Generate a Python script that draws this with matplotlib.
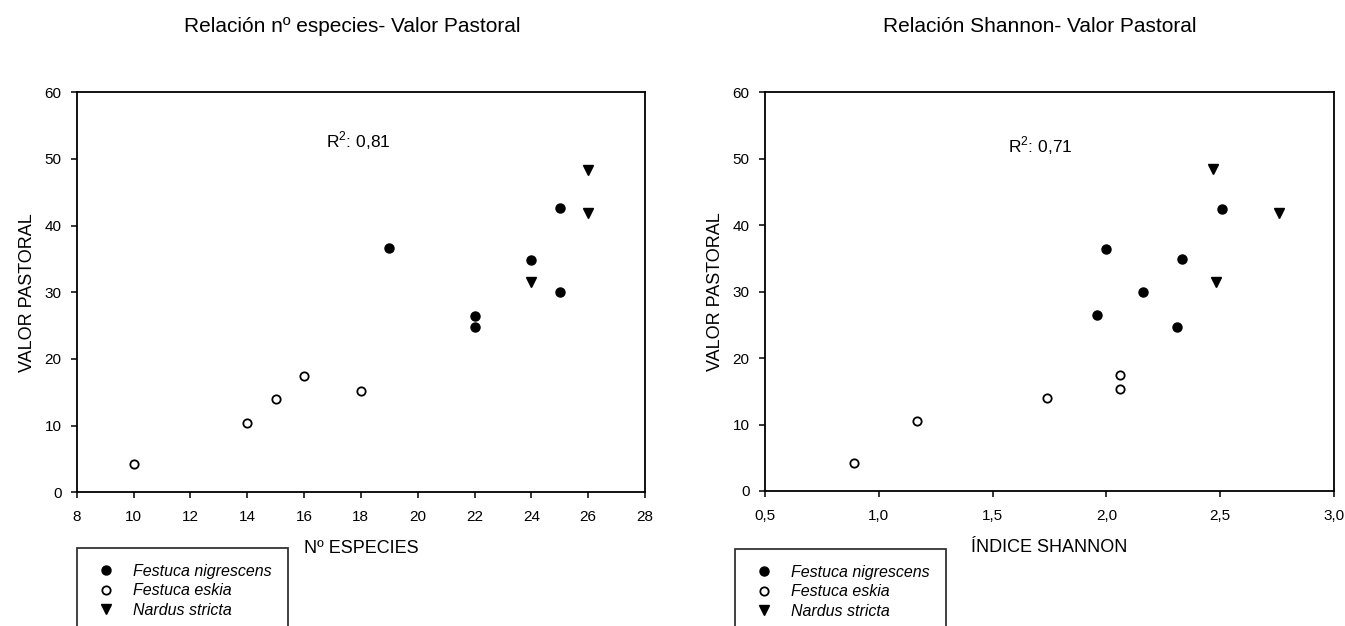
import matplotlib
matplotlib.use("Agg")
import matplotlib.pyplot as plt
from matplotlib.ticker import FuncFormatter, MultipleLocator

plt.rcParams["font.family"] = ["Liberation Sans", "DejaVu Sans"]
plt.rcParams["mathtext.fontset"] = "custom"
plt.rcParams["mathtext.rm"] = "Liberation Sans"

# Valor pastoral frente a nº de especies
nig_especies = [19, 22, 22, 24, 25, 25]
nig_vp_esp = [36.6, 26.4, 24.8, 34.9, 42.6, 30.0]
esk_especies = [10, 14, 15, 16, 18]
esk_vp_esp = [4.2, 10.4, 14.0, 17.4, 15.2]
nar_especies = [24, 26, 26]
nar_vp_esp = [31.5, 48.4, 41.9]

# Valor pastoral frente al índice de Shannon
nig_shannon = [2.00, 1.96, 2.16, 2.33, 2.31, 2.51]
nig_vp_sh = [36.4, 26.5, 30.0, 34.9, 24.7, 42.5]
esk_shannon = [0.89, 1.17, 1.74, 2.06, 2.06]
esk_vp_sh = [4.2, 10.6, 14.0, 17.5, 15.3]
nar_shannon = [2.47, 2.48, 2.76]
nar_vp_sh = [48.5, 31.5, 41.9]

especies = ["Festuca nigrescens", "Festuca eskia", "Nardus stricta"]
r2_especies = "0,81"
r2_shannon = "0,71"

fig = plt.figure(figsize=(13.45, 6.26), dpi=100)
W, H = 1345, 626


def ejes(x0, x1, y0, y1):
    return fig.add_axes([x0 / W, 1 - y1 / H, (x1 - x0) / W, (y1 - y0) / H])


def estilo(ax, xlim, xstep, ylabel, xlabel, coma):
    ax.set_xlim(*xlim)
    ax.set_ylim(0, 60)
    ax.xaxis.set_major_locator(MultipleLocator(xstep))
    ax.yaxis.set_major_locator(MultipleLocator(10))
    if coma:
        ax.xaxis.set_major_formatter(FuncFormatter(lambda v, p: f"{v:.1f}".replace(".", ",")))
    for s in ax.spines.values():
        s.set_linewidth(1.3)
    ax.tick_params(direction="out", length=4.5, width=1.1, labelsize=11)
    ax.tick_params(axis="x", pad=8.5)
    ax.tick_params(axis="y", pad=6.5)
    ax.set_ylabel(ylabel, fontsize=13)
    ax.yaxis.set_label_coords(-0.072, 0.5)
    ax.set_xlabel(xlabel, fontsize=13)
    ax.xaxis.set_label_coords(0.5, -0.12)


def puntos(ax, nx, ny, ex, ey, tx, ty):
    kw = dict(linestyle="none", markeredgecolor="black", clip_on=False)
    a = ax.plot(nx, ny, "o", markersize=6.5, markerfacecolor="black", **kw)[0]
    b = ax.plot(ex, ey, "o", markersize=6, markerfacecolor="white",
                markeredgewidth=1.3, **kw)[0]
    c = ax.plot(tx, ty, "v", markersize=7, markerfacecolor="black", **kw)[0]
    return [a, b, c]


def leyenda(handles, x_px, y_px):
    # el recuadro sigue por debajo del borde inferior de la figura
    leg = fig.legend(handles, especies, loc="upper left",
                     bbox_to_anchor=(x_px / W, 1 - y_px / H),
                     bbox_transform=fig.transFigure, borderaxespad=0,
                     prop=dict(style="italic", size=11.5),
                     borderpad=1.0, handlelength=1.6, handletextpad=0.9,
                     labelspacing=0.28, fancybox=False, frameon=True)
    leg.get_frame().set_edgecolor("black")
    leg.get_frame().set_linewidth(1.3)


# Panel izquierdo
ax1 = ejes(76.7, 645, 92.3, 492.3)
h1 = puntos(ax1, nig_especies, nig_vp_esp, esk_especies, esk_vp_esp,
            nar_especies, nar_vp_esp)
estilo(ax1, (8, 28), 2, "VALOR PASTORAL", "Nº ESPECIES", False)
ax1.text(17.9, 52.8, "R$^2$: " + r2_especies, fontsize=12.5, ha="center", va="center")
fig.text(352 / W, 1 - 27 / H, "Relación nº especies- Valor Pastoral",
         fontsize=15, ha="center", va="center")
leyenda(h1, 77, 548)

# Panel derecho
ax2 = ejes(765, 1334, 92.3, 491)
h2 = puntos(ax2, nig_shannon, nig_vp_sh, esk_shannon, esk_vp_sh,
            nar_shannon, nar_vp_sh)
estilo(ax2, (0.5, 3.0), 0.5, "VALOR PASTORAL", "ÍNDICE SHANNON", True)
ax2.text(1.71, 52.0, "R$^2$: " + r2_shannon, fontsize=12.5, ha="center", va="center")
fig.text(1040 / W, 1 - 27 / H, "Relación Shannon- Valor Pastoral",
         fontsize=15, ha="center", va="center")
leyenda(h2, 735, 549)

fig.savefig("out.png", dpi=100)
